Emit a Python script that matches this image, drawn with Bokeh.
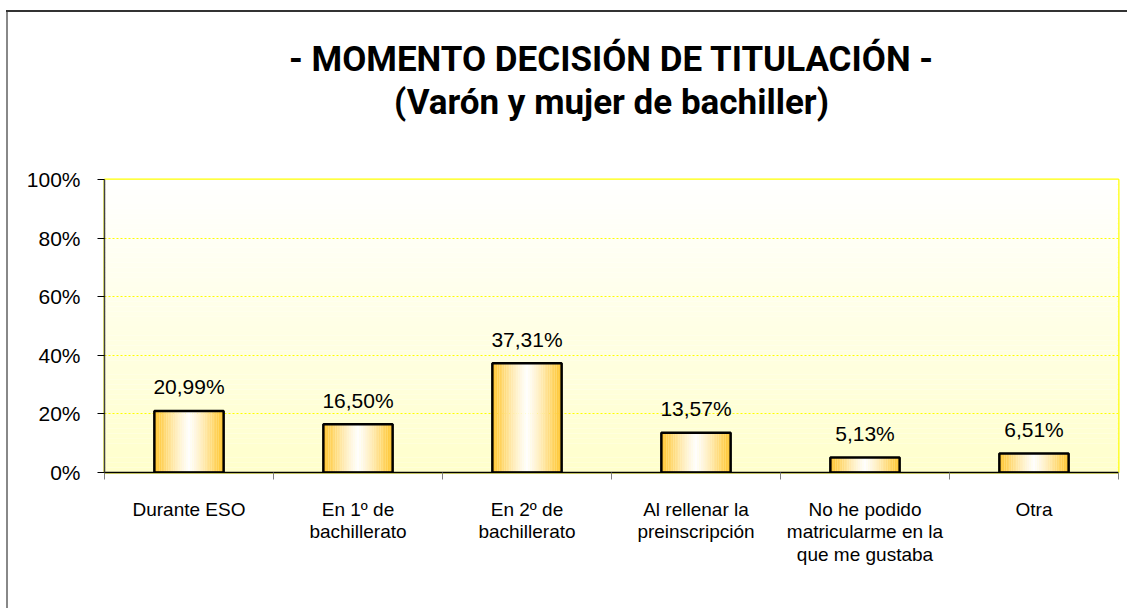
from bokeh.plotting import figure
from bokeh.models import FixedTicker, Range1d, Title
from bokeh.core.properties import value
from bokeh.embed import file_html
from bokeh.resources import INLINE

# ---- data ----
categories = ["Durante ESO", "En 1º de\nbachillerato", "En 2º de\nbachillerato",
              "Al rellenar la\npreinscripción",
              "No he podido\nmatricularme en la\nque me gustaba", "Otra"]
values = [20.99, 16.50, 37.31, 13.57, 5.13, 6.51]
y_ticks = [0, 20, 40, 60, 80, 100]
y_tick_labels = ["0%", "20%", "40%", "60%", "80%", "100%"]
title_lines = ["- MOMENTO DECISIÓN DE TITULACIÓN -", "(Varón y mujer de bachiller)"]

n = len(categories)
centers = [i + 0.5 for i in range(n)]
FONT = "Liberation Sans"
TITLE_FONT = "Roboto"

p = figure(width=1127, height=608, output_backend="svg", toolbar_location=None,
           x_range=Range1d(0, n), y_range=Range1d(0, 100),
           min_border_left=104, min_border_right=9, min_border_top=179, min_border_bottom=136)
p.background_fill_color = "#FFFFFF"
p.border_fill_color = None
p.outline_line_color = "#FFFF00"
p.outline_line_width = 2
# outer chart frame (left and top edges visible, as in the reference)
p.styles = {"box-shadow": "inset 6px 0 0 0 #FFFFFF, inset 0 10px 0 0 #FFFFFF, "
                          "inset 0 12px 0 0 #333333, inset 8px 0 0 0 #888888",
            "background-color": "#FFFFFF"}

# title: spacer nearest the plot, then the two centred lines
p.title.visible = False
spacer = Title(text=" ", align="center", text_font_size="1px", standoff=54)
t2 = Title(text=title_lines[1], align="center", text_font=TITLE_FONT,
           text_font_style="bold", text_font_size="35px", text_color="#000000",
           offset=10, standoff=0)
t1 = Title(text=title_lines[0], align="center", text_font=TITLE_FONT,
           text_font_style="bold", text_font_size="35px", text_color="#000000",
           offset=10, standoff=0)
p.add_layout(spacer, "above")
p.add_layout(t2, "above")
p.add_layout(t1, "above")

# background vertical gradient (white top -> light yellow bottom)
steps = 60
bg_bottom, bg_top, bg_col = [], [], []
for k in range(steps):
    t = k / (steps - 1)
    b = int(round(204 + (255 - 204) * t))
    bg_bottom.append(100 * k / steps)
    bg_top.append(100 * (k + 1) / steps)
    bg_col.append("#FFFF%02X" % b)
p.quad(left=0, right=n, bottom=bg_bottom, top=bg_top, fill_color=bg_col,
       line_color=None, level="image")

# bars with horizontal gradient (gold edges -> white centre)
bar_w = 0.41
strips = 40
sx, sw, stop, scol = [], [], [], []
edge = (255, 194, 36)
for i, v in enumerate(values):
    for k in range(strips):
        u = (k + 0.5) / strips
        d = abs(2 * u - 1)
        m = d ** 1.2
        r = int(round(255 + (edge[0] - 255) * m))
        g = int(round(255 + (edge[1] - 255) * m))
        b = int(round(255 + (edge[2] - 255) * m))
        sx.append(centers[i] - bar_w / 2 + (k + 0.5) * bar_w / strips)
        sw.append(bar_w / strips * 1.02)
        stop.append(v)
        scol.append("#%02X%02X%02X" % (r, g, b))
p.vbar(x=sx, width=sw, top=stop, bottom=0, fill_color=scol, line_color=None)
p.vbar(x=centers, width=bar_w, top=values, bottom=0, fill_color=None,
       line_color="#000000", line_width=2.5)

# value labels
labels = [("%.2f" % v).replace(".", ",") + "%" for v in values]
p.text(x=centers, y=values, text=labels, text_align="center", text_baseline="alphabetic",
       y_offset=-24, text_font=value(FONT), text_font_size="21px", text_color="#000000")

# axes
p.xaxis.ticker = FixedTicker(ticks=centers, minor_ticks=list(range(n + 1)))
p.xaxis.major_label_overrides = {c: lab for c, lab in zip(centers, categories)}
p.xaxis.major_tick_line_color = None
p.xaxis.minor_tick_line_color = "#808080"
p.xaxis.minor_tick_out = 7
p.xaxis.minor_tick_in = 0
p.xaxis.axis_line_color = "#000000"
p.xaxis.axis_line_width = 1.5
p.xaxis.major_label_standoff = 19
p.xaxis.major_label_text_font = FONT
p.xaxis.major_label_text_font_size = "19px"
p.xaxis.major_label_text_color = "#000000"
p.xaxis.major_label_text_line_height = 1.08

p.yaxis.ticker = FixedTicker(ticks=y_ticks, minor_ticks=[])
p.yaxis.major_label_overrides = {t: l for t, l in zip(y_ticks, y_tick_labels)}
p.yaxis.major_tick_line_color = "#000000"
p.yaxis.major_tick_out = 7
p.yaxis.major_tick_in = 0
p.yaxis.axis_line_color = "#404040"
p.yaxis.axis_line_width = 1.5
p.yaxis.major_label_standoff = 17
p.yaxis.major_label_text_font = FONT
p.yaxis.major_label_text_font_size = "21px"
p.yaxis.major_label_text_color = "#000000"

p.xgrid.visible = False
p.ygrid.ticker = FixedTicker(ticks=y_ticks[1:-1])
p.ygrid.grid_line_color = "#FFFF00"
p.ygrid.grid_line_dash = "2 2"
p.ygrid.grid_line_width = 1

open("out.html", "w").write(file_html(p, INLINE))
